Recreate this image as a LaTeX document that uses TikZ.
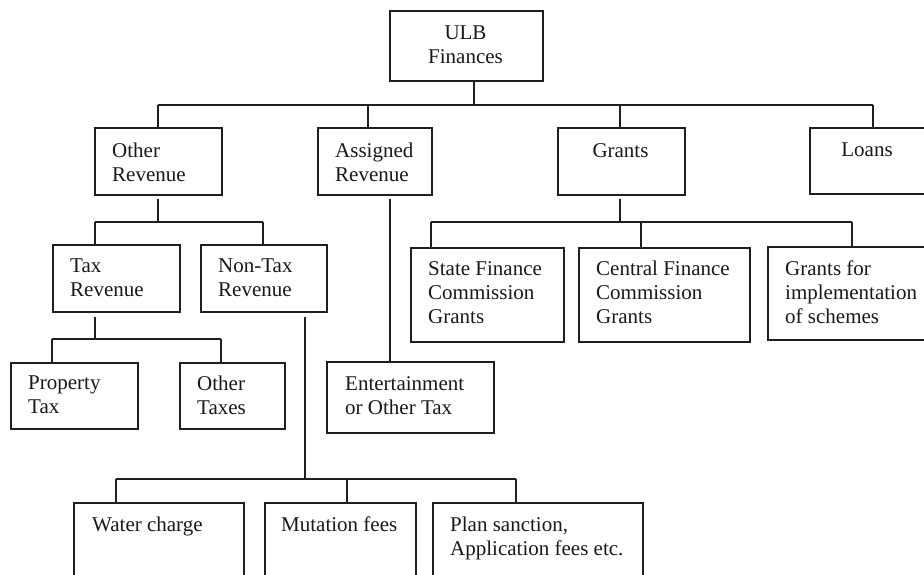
\documentclass[tikz,border=0pt]{standalone}
\usepackage{fontspec}
\setmainfont{Liberation Serif}
\begin{document}
\begin{tikzpicture}[x=1pt,y=-1pt,
  box/.style={draw=black!88,line width=1.7pt,rectangle,inner sep=0pt,anchor=north west},
  conn/.style={draw=black!88,line width=1.7pt},
  txt/.style={inner sep=0pt,anchor=north west,align=left,font=\fontsize{21}{24}\selectfont,text=black!90},
  ctxt/.style={inner sep=0pt,anchor=north,align=center,font=\fontsize{21}{24}\selectfont,text=black!90}]
\useasboundingbox (0,0) rectangle (924,574);
\fill[white] (0,0) rectangle (924,574);
\clip (0,0) rectangle (924,574);
% boxes
\node[box,minimum width=153pt,minimum height=70pt] (ulb) at (389,10) {};
\node[box,minimum width=127pt,minimum height=67pt] (other) at (94,127) {};
\node[box,minimum width=114pt,minimum height=67pt] (assigned) at (317,127) {};
\node[box,minimum width=127pt,minimum height=67pt] (grants) at (557,127) {};
\node[box,minimum width=140pt,minimum height=66pt] (loans) at (809,127) {};
\node[box,minimum width=127pt,minimum height=67pt] (tax) at (52,244) {};
\node[box,minimum width=126pt,minimum height=67pt] (nontax) at (200,244) {};
\node[box,minimum width=127pt,minimum height=66pt] (prop) at (10,362) {};
\node[box,minimum width=105pt,minimum height=66pt] (otaxes) at (179,362) {};
\node[box,minimum width=167pt,minimum height=71pt] (ent) at (326,361) {};
\node[box,minimum width=153pt,minimum height=94pt] (sfc) at (410,247) {};
\node[box,minimum width=171pt,minimum height=94pt] (cfc) at (578,247) {};
\node[box,minimum width=180pt,minimum height=93pt] (gfi) at (767,246) {};
\node[box,minimum width=170pt,minimum height=100pt] (water) at (73,502) {};
\node[box,minimum width=151pt,minimum height=100pt] (mut) at (264,502) {};
\node[box,minimum width=210pt,minimum height=100pt] (plan) at (432,502) {};
% texts
\node[ctxt] (ulbt) at (465.5,26) {ULB\\Finances};
\node[txt] (othert) at (112,143) {Other\\Revenue};
\node[txt] (assignedt) at (335,143) {Assigned\\Revenue};
\node[ctxt] (grantst) at (620.5,143) {Grants};
\node[ctxt] (loanst) at (867,143) {Loans};
\node[txt] (taxt) at (70,259) {Tax\\Revenue};
\node[txt] (nontaxt) at (218,259) {Non-Tax\\Revenue};
\node[txt] (propt) at (28,376) {Property\\Tax};
\node[txt] (otaxest) at (197,376) {Other\\Taxes};
\node[txt] (entt) at (345,376) {Entertainment\\or Other Tax};
\node[txt] (sfct) at (428,261) {State Finance\\Commission\\Grants};
\node[txt] (cfct) at (596,261) {Central Finance\\Commission\\Grants};
\node[txt] (gfit) at (785,261) {Grants for\\implementation\\of schemes};
\node[txt] (watert) at (92,517) {Water charge};
\node[txt] (mutt) at (281,517) {Mutation fees};
\node[txt] (plant) at (450,517) {Plan sanction,\\Application fees etc.};
% junction coordinates
\coordinate (t0) at (474,105);
\coordinate (t1) at (158,105);
\coordinate (t2) at (368,105);
\coordinate (t3) at (620,105);
\coordinate (t4) at (873,105);
\coordinate (o0) at (158,222);
\coordinate (o1) at (95,222);
\coordinate (o2) at (263,222);
\coordinate (x0) at (95,339);
\coordinate (x1) at (52,339);
\coordinate (x2) at (221,339);
\coordinate (a0) at (390,197);
\coordinate (n0) at (305,479);
\coordinate (n1) at (116,479);
\coordinate (n2) at (347,479);
\coordinate (n3) at (516,479);
\coordinate (g0) at (620,222);
\coordinate (g1) at (431,222);
\coordinate (g2) at (641,222);
\coordinate (g3) at (852,222);
% connectors
\draw[conn] (ulb.south -| t0) -- (t0);
\draw[conn] (t1) -- (t4);
\draw[conn] (t1) -- (t1 |- other.north);
\draw[conn] (t2) -- (t2 |- assigned.north);
\draw[conn] (t3) -- (t3 |- grants.north);
\draw[conn] (t4) -- (t4 |- loans.north);
\draw[conn] ([yshift=-3pt]other.south -| o0) -- (o0);
\draw[conn] (o1) -- (o2);
\draw[conn] (o1) -- (o1 |- tax.north);
\draw[conn] (o2) -- (o2 |- nontax.north);
\draw[conn] ([yshift=-4pt]tax.south -| x0) -- (x0);
\draw[conn] (x1) -- (x2);
\draw[conn] (x1) -- (x1 |- prop.north);
\draw[conn] (x2) -- (x2 |- otaxes.north);
\draw[conn] ([yshift=-3pt]assigned.south -| a0) -- (a0 |- ent.north);
\draw[conn] ([yshift=-4pt]nontax.south -| n0) -- (n0);
\draw[conn] (n1) -- (n3);
\draw[conn] (n1) -- (n1 |- water.north);
\draw[conn] (n2) -- (n2 |- mut.north);
\draw[conn] (n3) -- (n3 |- plan.north);
\draw[conn] ([yshift=-3pt]grants.south -| g0) -- (g0);
\draw[conn] (g1) -- (g3);
\draw[conn] (g1) -- (g1 |- sfc.north);
\draw[conn] (g2) -- (g2 |- cfc.north);
\draw[conn] (g3) -- (g3 |- gfi.north);
\end{tikzpicture}
\end{document}
